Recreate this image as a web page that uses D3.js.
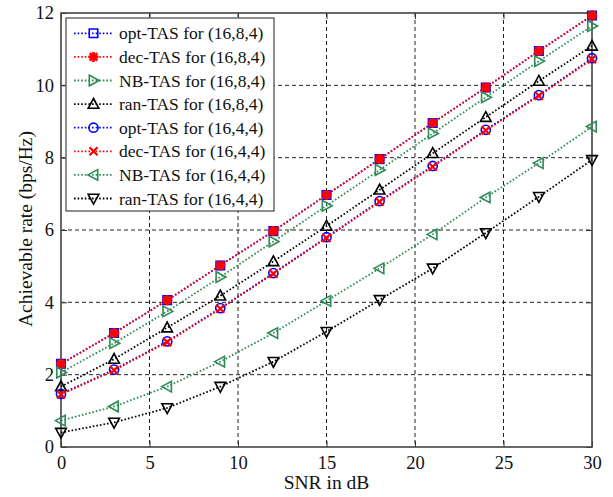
<!DOCTYPE html>
<meta charset="utf-8" />
<style>
  html,
  body {
    margin: 0;
    padding: 0;
    background: #fff;
  }
  svg text {
    font-family: 'Liberation Serif', 'Times New Roman', serif;
  }
</style>
<script src="https://d3js.org/d3.v7.min.js"></script>

<div id="my_dataviz"></div>

<script>
  // data
  const snr = [0, 3, 6, 9, 12, 15, 18, 21, 24, 27, 30];
  const optTas1684 = [2.3, 3.15, 4.06, 5.02, 5.97, 6.97, 7.96, 8.96, 9.94, 10.95, 11.93];
  const decTas1684 = [2.3, 3.15, 4.06, 5.02, 5.97, 6.97, 7.96, 8.96, 9.94, 10.95, 11.93];
  const nbTas1684 = [2.06, 2.87, 3.75, 4.7, 5.68, 6.67, 7.66, 8.67, 9.67, 10.67, 11.64];
  const ranTas1684 = [1.67, 2.43, 3.3, 4.18, 5.13, 6.11, 7.11, 8.12, 9.12, 10.12, 11.09];
  const optTas1644 = [1.47, 2.14, 2.92, 3.84, 4.81, 5.8, 6.8, 7.77, 8.77, 9.73, 10.75];
  const decTas1644 = [1.45, 2.12, 2.9, 3.82, 4.79, 5.78, 6.78, 7.75, 8.75, 9.71, 10.72];
  const nbTas1644 = [0.73, 1.12, 1.67, 2.36, 3.15, 4.04, 4.94, 5.88, 6.9, 7.85, 8.86];
  const ranTas1644 = [0.4, 0.68, 1.08, 1.67, 2.36, 3.19, 4.07, 4.94, 5.92, 6.92, 7.94];

  const seriesNames = [
    'opt-TAS for (16,8,4)',
    'dec-TAS for (16,8,4)',
    'NB-TAS for (16,8,4)',
    'ran-TAS for (16,8,4)',
    'opt-TAS for (16,4,4)',
    'dec-TAS for (16,4,4)',
    'NB-TAS for (16,4,4)',
    'ran-TAS for (16,4,4)',
  ];
  const seriesValues = [
    optTas1684, decTas1684, nbTas1684, ranTas1684,
    optTas1644, decTas1644, nbTas1644, ranTas1644,
  ];
  const xTicks = [0, 5, 10, 15, 20, 25, 30];
  const yTicks = [0, 2, 4, 6, 8, 10, 12];

  // styles per series
  const green = '#2e8b57';
  const styles = [
    { color: 'blue', marker: 'square' },
    { color: 'red', marker: 'star' },
    { color: green, marker: 'right' },
    { color: 'black', marker: 'up' },
    { color: 'blue', marker: 'circle' },
    { color: 'red', marker: 'x' },
    { color: green, marker: 'left' },
    { color: 'black', marker: 'down' },
  ];

  const W = 613;
  const H = 497;
  const margin = { top: 13, right: 21, bottom: 50, left: 61 };
  const width = W - margin.left - margin.right;
  const height = H - margin.top - margin.bottom;

  const svg = d3
    .select('#my_dataviz')
    .append('svg')
    .attr('width', W)
    .attr('height', H);

  const g = svg
    .append('g')
    .attr('transform', 'translate(' + margin.left + ',' + margin.top + ')');

  const x = d3.scaleLinear().domain([0, 30]).range([0, width]);
  const y = d3.scaleLinear().domain([0, 12]).range([height, 0]);

  // grid
  g.append('g')
    .selectAll('line')
    .data(xTicks.slice(1, -1))
    .enter()
    .append('line')
    .attr('x1', (d) => x(d))
    .attr('x2', (d) => x(d))
    .attr('y1', 0)
    .attr('y2', height)
    .attr('stroke', '#222')
    .attr('stroke-width', 1)
    .attr('stroke-dasharray', '4,3');
  g.append('g')
    .selectAll('line')
    .data(yTicks.slice(1, -1))
    .enter()
    .append('line')
    .attr('x1', 0)
    .attr('x2', width)
    .attr('y1', (d) => y(d))
    .attr('y2', (d) => y(d))
    .attr('stroke', '#222')
    .attr('stroke-width', 1)
    .attr('stroke-dasharray', '4,3');

  // axes (ticks inward, like matlab)
  const axisStyle = (sel) => {
    sel.select('.domain').remove();
    sel.selectAll('line').attr('stroke', '#333');
    sel.selectAll('text')
      .attr('fill', '#111')
      .style('font-size', '18.5px');
  };
  g.append('g')
    .attr('transform', 'translate(0,' + height + ')')
    .call(d3.axisBottom(x).tickValues(xTicks).tickSize(-6).tickPadding(9))
    .call(axisStyle);
  g.append('g')
    .call(d3.axisTop(x).tickValues(xTicks).tickSize(-6).tickFormat(''))
    .call(axisStyle);
  g.append('g')
    .call(d3.axisLeft(y).tickValues(yTicks).tickSize(-6).tickPadding(7))
    .call(axisStyle);
  g.append('g')
    .attr('transform', 'translate(' + width + ',0)')
    .call(d3.axisRight(y).tickValues(yTicks).tickSize(-6).tickFormat(''))
    .call(axisStyle);

  g.append('rect')
    .attr('width', width)
    .attr('height', height)
    .attr('fill', 'none')
    .attr('stroke', '#444')
    .attr('stroke-width', 1.6);

  // markers
  function markerPath(type) {
    const r = 5;
    if (type === 'square') return d3.symbol(d3.symbolSquare, 72)();
    if (type === 'circle') return d3.symbol(d3.symbolCircle, 66)();
    if (type === 'star') {
      const a = r * 0.75;
      return (
        'M0,' + -r + 'V' + r + 'M' + -r + ',0H' + r +
        'M' + -a + ',' + -a + 'L' + a + ',' + a +
        'M' + -a + ',' + a + 'L' + a + ',' + -a
      );
    }
    if (type === 'x') {
      const a = 4;
      return 'M' + -a + ',' + -a + 'L' + a + ',' + a + 'M' + -a + ',' + a + 'L' + a + ',' + -a;
    }
    const t = 5.6;
    const tri = 'M0,' + -t + 'L' + t * 0.95 + ',' + t * 0.75 + 'L' + -t * 0.95 + ',' + t * 0.75 + 'Z';
    return tri;
  }
  function markerRotation(type) {
    if (type === 'right') return 90;
    if (type === 'left') return -90;
    if (type === 'down') return 180;
    return 0;
  }
  function drawMarker(sel, st) {
    sel
      .append('path')
      .attr('d', markerPath(st.marker))
      .attr('transform', 'rotate(' + markerRotation(st.marker) + ')')
      .attr('fill', 'none')
      .attr('stroke', st.color)
      .attr('stroke-width', st.marker === 'star' ? 2.6 : st.marker === 'x' ? 2.2 : 1.6);
  }

  const line = d3
    .line()
    .x((d, i) => x(snr[i]))
    .y((d) => y(d));

  seriesValues.forEach(function (vals, k) {
    const st = styles[k];
    g.append('path')
      .datum(vals)
      .attr('d', line)
      .attr('fill', 'none')
      .attr('stroke', st.color)
      .attr('stroke-width', 1.8)
      .attr('stroke-dasharray', '1.6,2');
    vals.forEach(function (v, i) {
      const m = g.append('g').attr('transform', 'translate(' + x(snr[i]) + ',' + y(v) + ')');
      drawMarker(m, st);
    });
  });

  // legend
  const legend = svg.append('g').attr('transform', 'translate(66,18)');
  legend
    .append('rect')
    .attr('width', 208)
    .attr('height', 193)
    .attr('fill', '#fff')
    .attr('stroke', '#444')
    .attr('stroke-width', 1.2);
  seriesNames.forEach(function (name, k) {
    const st = styles[k];
    const row = legend.append('g').attr('transform', 'translate(0,' + (15.3 + k * 23.6) + ')');
    row.append('line')
      .attr('x1', 8)
      .attr('x2', 47)
      .attr('stroke', st.color)
      .attr('stroke-width', 1.8)
      .attr('stroke-dasharray', '1.6,2');
    const m = row.append('g').attr('transform', 'translate(27.5,0)');
    drawMarker(m, st);
    row.append('text')
      .attr('x', 53)
      .attr('y', 6)
      .style('font-size', '17.5px')
      .attr('fill', '#111')
      .text(name);
  });

  // axis titles
  svg.append('text')
    .attr('x', margin.left + width / 2)
    .attr('y', 489)
    .attr('text-anchor', 'middle')
    .style('font-size', '19.5px')
    .attr('fill', '#111')
    .text('SNR in dB');
  svg.append('text')
    .attr('transform', 'translate(32,229) rotate(-90)')
    .attr('text-anchor', 'middle')
    .style('font-size', '19.5px')
    .attr('fill', '#111')
    .text('Achievable rate (bps/Hz)');
</script>
